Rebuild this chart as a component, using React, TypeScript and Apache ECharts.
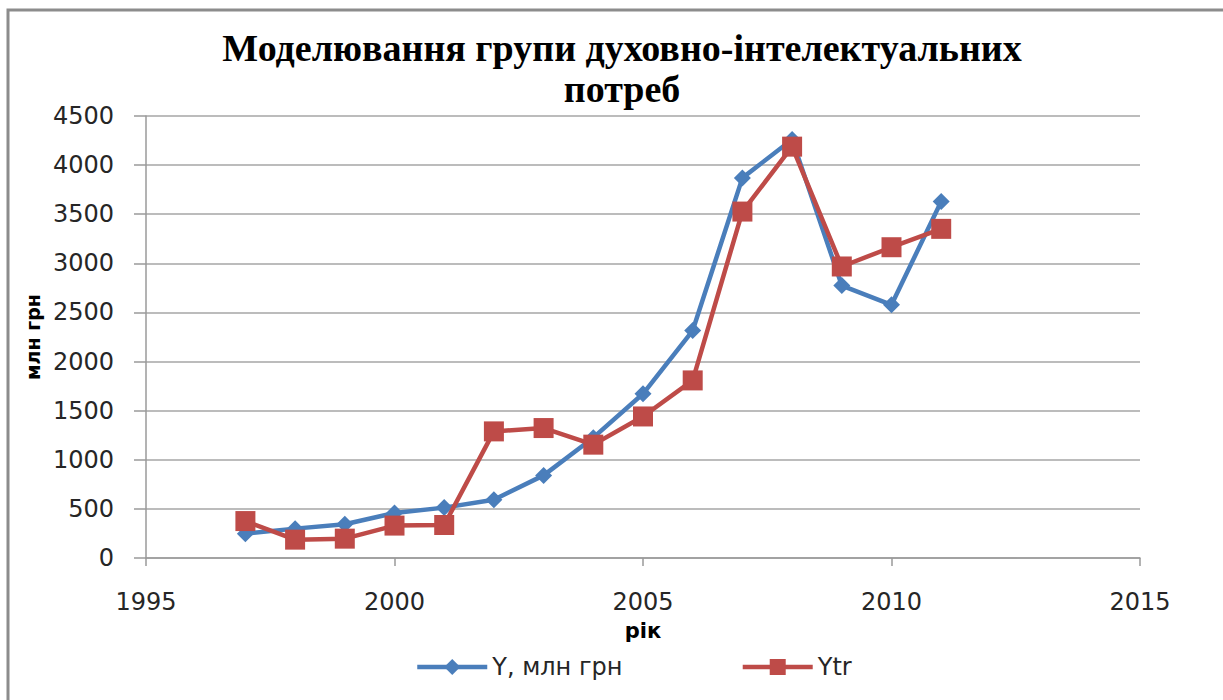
import React, { useEffect, useRef } from "react";
import * as echarts from "echarts";

const years = [1997, 1998, 1999, 2000, 2001, 2002, 2003, 2004, 2005, 2006, 2007, 2008, 2009, 2010, 2011];
const yValues = [248, 299, 343, 458, 513, 594, 841, 1225, 1672, 2316, 3870, 4260, 2774, 2578, 3629];
const ytrValues = [376, 187, 197, 330, 336, 1289, 1323, 1154, 1441, 1808, 3527, 4188, 2968, 3164, 3351];
const seriesNames = ["Y, млн грн", "Ytr"];
const titleText = "Моделювання групи духовно-інтелектуальних\nпотреб";

export default function App() {
  const ref = useRef<HTMLDivElement>(null);
  useEffect(() => {
    document.body.style.margin = "0";
    const chart = echarts.init(ref.current!, null, { renderer: "svg" });
    const labelFont = { fontFamily: "DejaVu Sans", fontSize: 24, color: "#262626", formatter: (v: number) => String(v) };
    chart.setOption({
      animation: false,
      backgroundColor: "#ffffff",
      title: {
        text: titleText,
        left: 617,
        top: 22,
        textAlign: "center",
        textStyle: {
          fontFamily: "Liberation Serif",
          fontWeight: "bold",
          fontSize: 38,
          lineHeight: 41,
          color: "#000",
        },
      },
      graphic: [
        {
          type: "rect",
          shape: { x: 8, y: 10, width: 1300, height: 800 },
          style: { fill: "none", stroke: "#8c8c8c", lineWidth: 3 },
          silent: true,
        },
      ],
      legend: {
        bottom: 16,
        left: 410,
        itemWidth: 70,
        itemHeight: 20,
        itemGap: 118,
        lineStyle: { width: 4.5 },
        textStyle: { fontFamily: "DejaVu Sans", fontSize: 24, color: "#262626" },
        data: seriesNames,
      },
      grid: { left: 146, right: 83, top: 116, bottom: 142, containLabel: false },
      xAxis: {
        type: "value",
        min: 1995,
        max: 2015,
        interval: 5,
        name: "рік",
        nameLocation: "middle",
        nameGap: 62,
        nameTextStyle: { fontFamily: "DejaVu Sans", fontWeight: "bold", fontSize: 21, color: "#000" },
        axisLine: { show: true, lineStyle: { color: "#9a9a9a", width: 1.5 } },
        axisTick: { show: true, inside: false, length: 8, lineStyle: { color: "#9a9a9a", width: 1.5 } },
        axisLabel: { ...labelFont, margin: 32 },
        splitLine: { show: false },
      },
      yAxis: {
        type: "value",
        min: 0,
        max: 4500,
        interval: 500,
        name: "млн грн",
        nameLocation: "middle",
        nameGap: 100,
        nameRotate: 90,
        nameTextStyle: { fontFamily: "DejaVu Sans", fontWeight: "bold", fontSize: 19, color: "#000" },
        axisLine: { show: true, lineStyle: { color: "#9a9a9a", width: 1.5 } },
        axisTick: { show: true, inside: false, length: 12, lineStyle: { color: "#9a9a9a", width: 1.5 } },
        axisLabel: { ...labelFont, margin: 32 },
        splitLine: { show: true, lineStyle: { color: "#a6a6a6", width: 1.5 } },
      },
      series: [
        {
          name: seriesNames[0],
          type: "line",
          data: years.map((y, i) => [y, yValues[i]]),
          symbol: "diamond",
          symbolSize: 17,
          lineStyle: { color: "#4a7ebb", width: 4.5 },
          itemStyle: { color: "#4a7ebb" },
          z: 2,
        },
        {
          name: seriesNames[1],
          type: "line",
          data: years.map((y, i) => [y, ytrValues[i]]),
          symbol: "rect",
          symbolSize: 20,
          lineStyle: { color: "#be4b48", width: 4.5 },
          itemStyle: { color: "#be4b48" },
          z: 3,
        },
      ],
    });
    return () => chart.dispose();
  }, []);
  return <div ref={ref} style={{ width: 1223, height: 700 }} />;
}
